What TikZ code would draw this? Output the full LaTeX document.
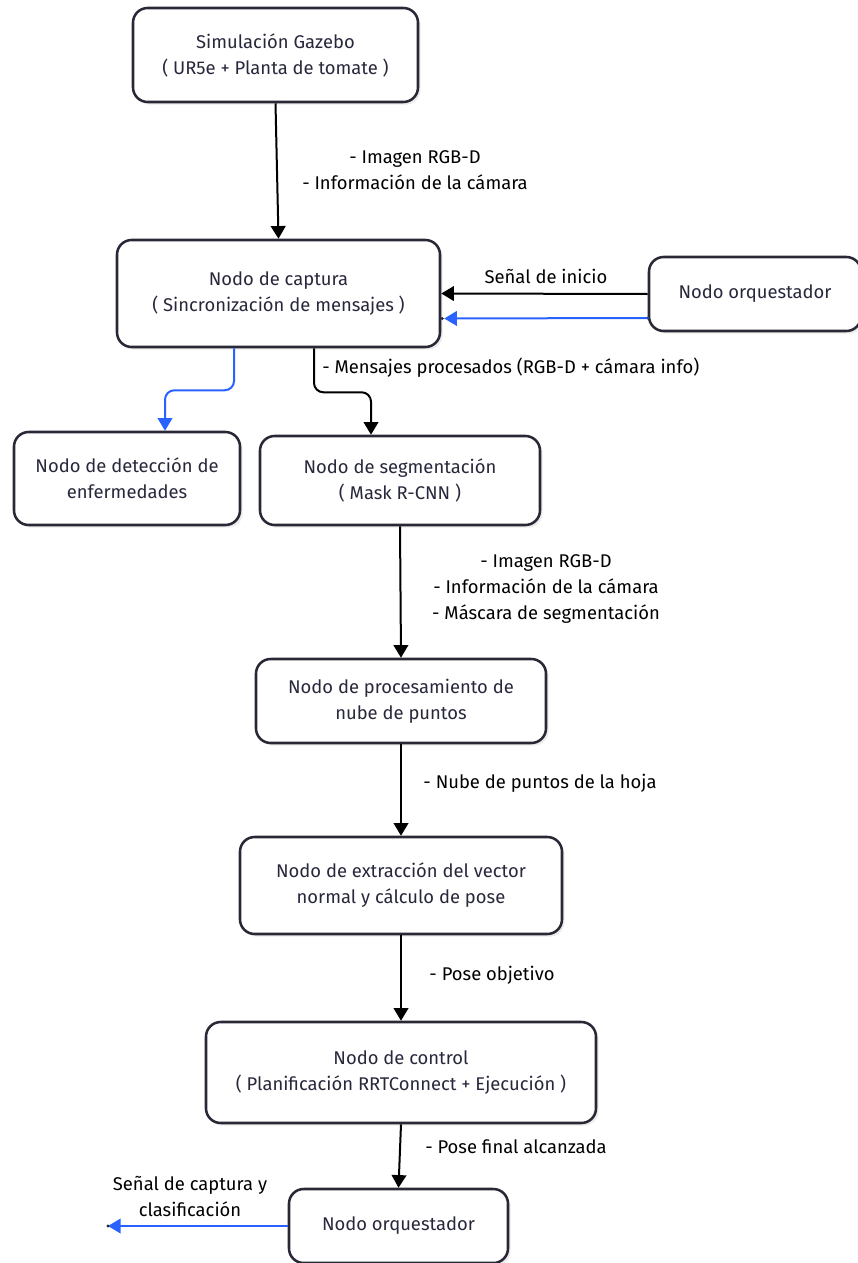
\documentclass[tikz,border=0pt]{standalone}
\usepackage{fontspec}
\setmainfont{Fira Sans}
\usetikzlibrary{arrows.meta,calc,shadows}
\definecolor{boxtext}{RGB}{40,40,60}
\definecolor{boxline}{RGB}{40,40,55}
\definecolor{flowblue}{RGB}{41,98,255}
\tikzset{
  box/.style={draw=boxline, line width=1.9pt, rounded corners=11pt, fill=white,
    align=center, text=boxtext, font=\fontsize{13.8}{19.5}\selectfont,
    drop shadow={shadow xshift=2pt, shadow yshift=-2pt, fill=black!12, opacity=0.6}},
  flow/.style={line width=1.5pt, -{Triangle[width=11pt,length=9.5pt]}},
  blueflow/.style={flow, draw=flowblue, color=flowblue},
  lbl/.style={align=center, text=black, font=\fontsize{13.8}{19.5}\selectfont, inner sep=0pt},
}
\begin{document}
\begin{tikzpicture}[x=0.75pt,y=-0.75pt]
\useasboundingbox (0,0) rectangle (857,1263);

\node[box, minimum width=213.75pt, minimum height=70.5pt] (gazebo) at (275.5,55)
  {Simulación Gazebo\\( UR5e + Planta de tomate )};
\node[box, minimum width=242.25pt, minimum height=80.25pt] (captura) at (278.5,293.5)
  {Nodo de captura\\( Sincronización de mensajes )};
\node[box, minimum width=159pt, minimum height=55.5pt] (orqtop) at (755,294)
  {Nodo orquestador};
\node[box, minimum width=169.5pt, minimum height=69.75pt] (det) at (127,478.5)
  {Nodo de detección de\\enfermedades};
\node[box, minimum width=210pt, minimum height=66.75pt] (seg) at (400,480.5)
  {Nodo de segmentación\\( Mask R-CNN )};
\node[box, minimum width=217.5pt, minimum height=63pt] (proc) at (401,701)
  {Nodo de procesamiento de\\nube de puntos};
\node[box, minimum width=241.5pt, minimum height=72.75pt] (ext) at (401,885.5)
  {Nodo de extracción del vector\\normal y cálculo de pose};
\node[box, minimum width=292.5pt, minimum height=75.75pt] (ctrl) at (401,1072.5)
  {Nodo de control\\( Planificación RRTConnect + Ejecución )};
\node[box, minimum width=164.25pt, minimum height=55.5pt] (orqbot) at (398.5,1226)
  {Nodo orquestador};

% Gazebo -> captura
\draw[flow] (gazebo.south) -- (captura.north);
\node[lbl] (l1) at (415,170) {- Imagen RGB-D\\- Información de la cámara};

% orquestador -> captura
\draw[flow] (orqtop.west) -- (captura.east);
\node[lbl] (l2) at (546,276) {Señal de inicio};
\draw[blueflow] ($(orqtop.west)+(0,24)$) -- ($(captura.east)+(3,25)$);
\fill[boxline] ($(captura.east)+(1,25)$) circle (1.6);
\fill[flowblue!60!boxline] ($(orqtop.west)+(0,24)$) circle (1.6);

% captura -> deteccion (blue)
\draw[blueflow, rounded corners=7pt] ($(captura.south)+(-44.5,0)$) -- ++(0,42) -| ($(det.north)+(38,0)$);
% captura -> segmentacion
\draw[flow, rounded corners=7pt] ($(captura.south)+(35.5,0)$) -- ++(0,44) -| ($(seg.north)+(-29,0)$);
\node[lbl, anchor=west] (l3) at (322,368) {- Mensajes procesados (RGB-D + cámara info)};

% segmentacion -> procesamiento
\draw[flow] (seg.south) -- (proc.north);
\node[lbl] (l4) at (546,589) {- Imagen RGB-D\\- Información de la cámara\\- Máscara de segmentación};

% procesamiento -> extraccion
\draw[flow] (proc.south) -- (ext.north);
\node[lbl] (l5) at (540,783) {- Nube de puntos de la hoja};

% extraccion -> control
\draw[flow] (ext.south) -- (ctrl.north);
\node[lbl] (l6) at (492,975) {- Pose objetivo};

% control -> orquestador
\draw[flow] (ctrl.south) -- (orqbot.north);
\node[lbl] (l7) at (516,1147) {- Pose final alcanzada};

% orquestador -> señal
\coordinate (sig) at (108,1226);
\draw[blueflow] (orqbot.west) -- (sig);
\fill[boxline] (sig) circle (1.6);
\node[lbl] (l8) at (190,1196) {Señal de captura y\\clasificación};
\end{tikzpicture}
\end{document}
